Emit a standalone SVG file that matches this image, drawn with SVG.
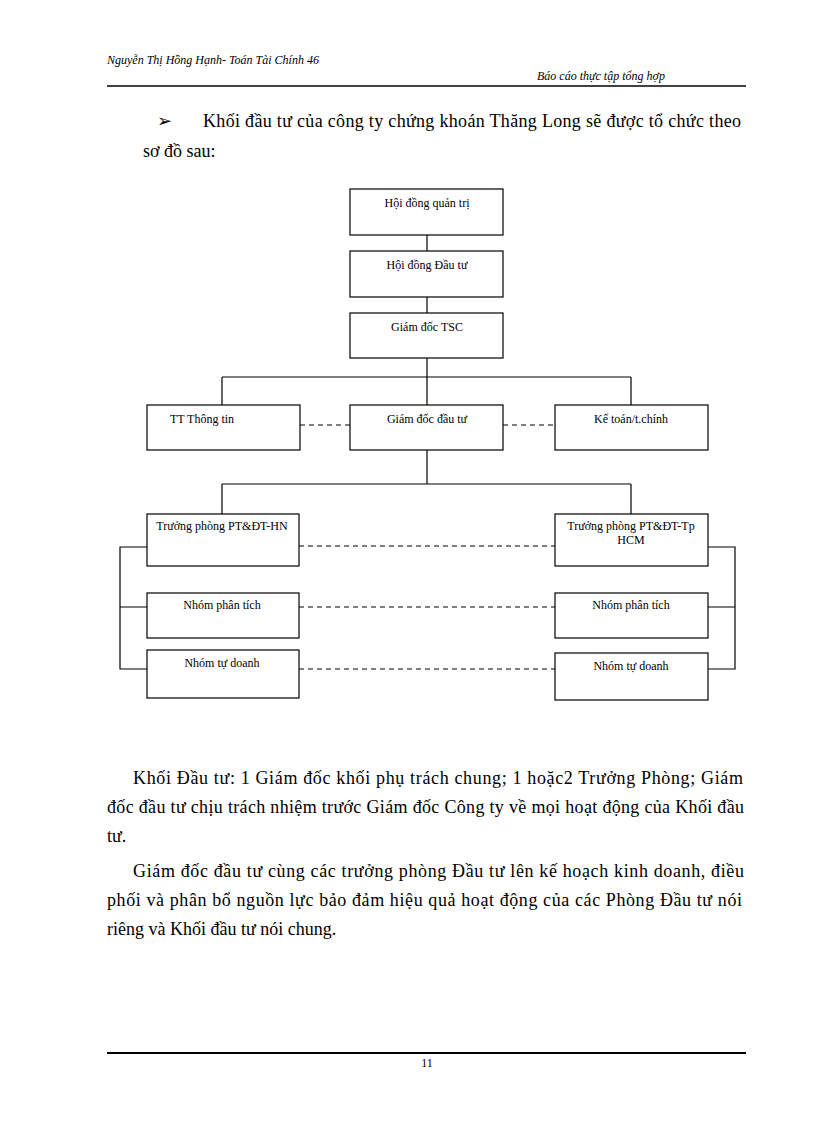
<svg xmlns="http://www.w3.org/2000/svg" width="816" height="1123" viewBox="0 0 816 1123">
<style>
.b{fill:#fff;stroke:#000;stroke-width:1.2}
.t{font-family:"Liberation Serif",serif;font-size:12px;text-anchor:middle}
.p{font-family:"Liberation Serif",serif;font-size:18px}
.l{stroke:#000;stroke-width:1.2;fill:none}
.d{stroke:#000;stroke-width:1.2;stroke-dasharray:5,4;fill:none}
</style>
<rect width="816" height="1123" fill="#fff"/>
<text x="107" y="64" font-family="Liberation Serif,serif" font-size="12" font-style="italic">Nguyễn Thị Hồng Hạnh- Toán Tài Chính 46</text>
<text x="537" y="80" font-family="Liberation Serif,serif" font-size="12" font-style="italic">Báo cáo thực tập tổng hợp</text>
<line x1="107" y1="86" x2="746" y2="86" stroke="#000" stroke-width="1.5"/>
<text x="157" y="127" class="p">➢</text>
<text x="203" y="127" class="p" textLength="538" lengthAdjust="spacing">Khối đầu tư của công ty chứng khoán Thăng Long sẽ được tổ chức theo</text>
<text x="143" y="157" class="p">sơ đồ sau:</text>
<g id="connectors">
<path class="l" d="M427 235V251M427 297V313M427 358V405M222 377H631M222 377V405M631 377V405M427 450V484M222 484H631M222 484V514M631 484V514"/>
<path class="l" d="M147 547H120V669H147M120 607H147M708 547H735V669H708M735 607H708"/>
<path class="d" d="M300 425H350M503 425H555M299 546H555M299 607H555M299 669H555"/>
</g>
<g id="n1"><rect class="b" x="350" y="189" width="153" height="46"/><text class="t" x="427" y="207">Hội  đồng quản trị</text></g>
<g id="n2"><rect class="b" x="350" y="251" width="153" height="46"/><text class="t" x="427" y="269">Hội đồng Đầu tư</text></g>
<g id="n3"><rect class="b" x="350" y="313" width="153" height="45"/><text class="t" x="427" y="331">Giám  đốc TSC</text></g>
<g id="n4"><rect class="b" x="147" y="405" width="153" height="45"/><text class="t" x="202" y="423">TT Thông tin</text></g>
<g id="n5"><rect class="b" x="350" y="405" width="153" height="45"/><text class="t" x="427" y="423">Giám  đốc đầu tư</text></g>
<g id="n6"><rect class="b" x="555" y="405" width="153" height="45"/><text class="t" x="631" y="423">Kế toán/t.chính</text></g>
<g id="n7"><rect class="b" x="147" y="514" width="152" height="52"/><text class="t" x="222" y="530" font-size="11">Trưởng phòng PT&amp;ĐT-HN</text></g>
<g id="n8"><rect class="b" x="147" y="593" width="152" height="45"/><text class="t" x="222" y="609" font-size="11">Nhóm phân tích</text></g>
<g id="n9"><rect class="b" x="147" y="650" width="152" height="48"/><text class="t" x="222" y="667" font-size="11">Nhóm tự doanh</text></g>
<g id="n10"><rect class="b" x="555" y="514" width="153" height="52"/><text class="t" x="631" y="530" font-size="11">Trưởng phòng PT&amp;ĐT-Tp</text><text class="t" x="631" y="544" font-size="11">HCM</text></g>
<g id="n11"><rect class="b" x="555" y="593" width="153" height="45"/><text class="t" x="631" y="609" font-size="11">Nhóm phân tích</text></g>
<g id="n12"><rect class="b" x="555" y="653" width="153" height="47"/><text class="t" x="631" y="670" font-size="11">Nhóm tự doanh</text></g>
<text x="133" y="784" class="p" textLength="610" lengthAdjust="spacing">Khối Đầu tư: 1 Giám đốc khối phụ trách chung; 1 hoặc2 Trưởng Phòng; Giám</text>
<text x="107" y="813" class="p" textLength="637" lengthAdjust="spacing">đốc đầu tư chịu trách nhiệm trước Giám đốc Công ty về mọi hoạt động của Khối đầu</text>
<text x="107" y="842" class="p">tư.</text>
<text x="133" y="877" class="p" textLength="611" lengthAdjust="spacing">Giám đốc đầu tư cùng các trưởng phòng Đầu tư lên kế hoạch kinh doanh, điều</text>
<text x="107" y="906" class="p" textLength="635" lengthAdjust="spacing">phối và phân bổ nguồn lực bảo đảm hiệu quả hoạt động của các Phòng Đầu tư nói</text>
<text x="107" y="935" class="p">riêng và Khối đầu tư nói chung.</text>
<line x1="107" y1="1053" x2="746" y2="1053" stroke="#000" stroke-width="2"/>
<text x="427" y="1067" font-family="Liberation Serif,serif" font-size="12" text-anchor="middle">11</text>
</svg>
